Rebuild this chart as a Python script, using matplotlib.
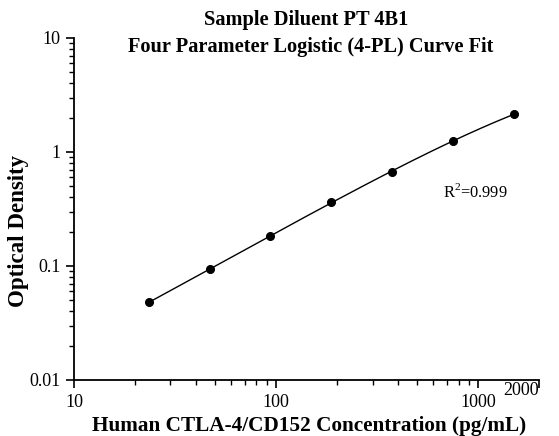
import numpy as np
import matplotlib
matplotlib.use('Agg')
import matplotlib.pyplot as plt
from matplotlib.ticker import FixedLocator, NullFormatter, LogLocator

# Точки стандартної кривої
conc = np.array([23.4, 46.9, 93.75, 187.5, 375, 750, 1500])
od = np.array([0.048, 0.0935, 0.183, 0.364, 0.671, 1.256, 2.14])

x_ticks = [10, 100, 1000, 2000]
x_labels = ['10', '100', '1000', '2000']
y_ticks = [0.01, 0.1, 1, 10]
y_labels = ['0.01', '0.1', '1', '10']
r2_text = 'R$^2$=0.999'


def fit_4pl(x, y):
    # Підбір A і D по сітці, B і C - лінійна регресія в лог-просторі
    best = None
    lx = np.log(x)
    for a in np.linspace(0.0, y.min() * 0.95, 60):
        for d in np.geomspace(y.max() * 1.02, y.max() * 20, 120):
            z = np.log((a - y) / (y - d))
            b, k = np.polyfit(lx, z, 1)
            c = np.exp(-k / b)
            pred = d + (a - d) / (1 + (x / c) ** b)
            sse = np.sum((np.log(pred) - np.log(y)) ** 2)
            if best is None or sse < best[0]:
                best = (sse, a, b, c, d)
    return best[1:]


a, b, c, d = fit_4pl(conc, od)
xs = np.geomspace(conc.min(), conc.max(), 200)
ys = d + (a - d) / (1 + (xs / c) ** b)

plt.rcParams['font.family'] = ['Liberation Serif', 'DejaVu Serif']
plt.rcParams['mathtext.fontset'] = 'custom'
plt.rcParams['mathtext.rm'] = 'Liberation Serif'

W, H = 559, 436
fig = plt.figure(figsize=(W / 100, H / 100), dpi=100)
ax = fig.add_axes([74 / W, 1 - 380 / H, (539 - 74) / W, (380 - 38) / H])

ax.plot(xs, ys, color='black', lw=1.0)
ax.plot(conc, od, 'o', color='black', ms=5.5)

ax.set_xscale('log')
ax.set_yscale('log')
ax.set_xlim(10, 2000)
ax.set_ylim(0.01, 10)

ax.spines['top'].set_visible(False)
ax.spines['right'].set_visible(False)
for s in ['left', 'bottom']:
    ax.spines[s].set_linewidth(1.3)

ax.xaxis.set_major_locator(FixedLocator(x_ticks))
ax.set_xticklabels(x_labels)
ax.xaxis.set_minor_locator(LogLocator(base=10, subs=np.arange(2, 10), numticks=20))
ax.xaxis.set_minor_formatter(NullFormatter())
ax.yaxis.set_major_locator(FixedLocator(y_ticks))
ax.set_yticklabels(y_labels)
ax.yaxis.set_minor_locator(LogLocator(base=10, subs=np.arange(2, 10), numticks=20))
ax.yaxis.set_minor_formatter(NullFormatter())

ax.tick_params(which='major', direction='out', length=6, width=1.2, labelsize=13)
ax.tick_params(axis='x', which='major', pad=4)
ax.tick_params(which='minor', direction='out', length=3.5, width=1.0)
# підпис 2000 трохи вище і ліворуч
lab = ax.get_xticklabels()[-1]
lab.set_y(0.035)
lab.set_ha('right')

# заголовок у два рядки
fig.text(306 / W, 1 - 25 / H, 'Sample Diluent PT 4B1', fontsize=14.7,
         fontweight='bold', ha='center', va='baseline')
fig.text(311 / W, 1 - 52 / H, 'Four Parameter Logistic (4-PL) Curve Fit', fontsize=14.7,
         fontweight='bold', ha='center', va='baseline')

fig.text(309 / W, 1 - 431 / H, 'Human CTLA-4/CD152 Concentration (pg/mL)', fontsize=15.3,
         fontweight='bold', ha='center', va='baseline')
fig.text(19 / W, 1 - 231 / H, 'Optical Density', fontsize=16.5, fontweight='bold',
         rotation=90, ha='center', va='center')

ax.text(972, 0.446, r2_text, fontsize=11.8, ha='center', va='center')

fig.savefig('out.png', dpi=100)
